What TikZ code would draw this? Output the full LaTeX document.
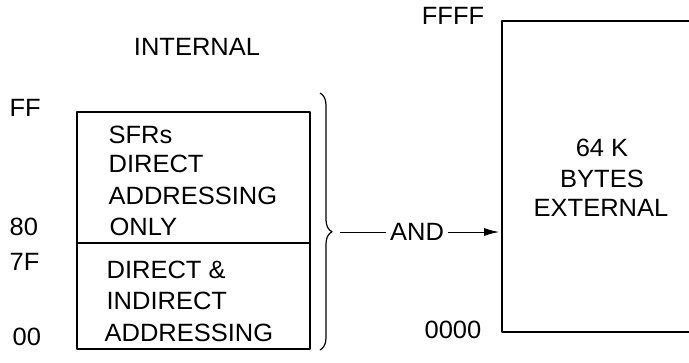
\documentclass[tikz,border=0pt]{standalone}
\usepackage{fontspec}
\setmainfont{Liberation Sans}[FakeStretch=1.02]
\usetikzlibrary{decorations.pathreplacing,arrows.meta}
\begin{document}
\begin{tikzpicture}[x=1pt, y=-1pt, font=\fontsize{25}{29}\selectfont, line width=1.2pt, line join=round, >={Latex[length=15pt,width=8pt]}]
	\useasboundingbox (0,0) rectangle (689,362);
	% internal RAM
	\draw (77,112) rectangle (310,349);
	\draw (77,243) -- (310,243);
	\node (intl) at (197,47) {INTERNAL};
	\node[anchor=west, inner sep=0] (ff) at (9,108) {FF};
	\node[anchor=west, inner sep=0] (a80) at (9,227) {80};
	\node[anchor=west, inner sep=0] (a7f) at (9,262) {7F};
	\node[anchor=west, inner sep=0] (a00) at (12,337) {00};
	\node[anchor=west, inner sep=0] (sfr) at (108,135) {SFRs};
	\node[anchor=west, inner sep=0] (dir) at (108,164) {DIRECT};
	\node[anchor=west, inner sep=0] (adr) at (108,196) {ADDRESSING};
	\node[anchor=west, inner sep=0] (only) at (109,227) {ONLY};
	\node[anchor=west, inner sep=0] (dind) at (106,270) {DIRECT \&};
	\node[anchor=west, inner sep=0] (ind) at (106,301) {INDIRECT};
	\node[anchor=west, inner sep=0] (adr2) at (104,333) {ADDRESSING};
	\draw[decorate, decoration={brace, amplitude=12pt, aspect=0.54}] (320,93) -- (320,350);
	\coordinate (tip) at (340,232);
	% external memory
	\draw (689,21) -| (502,332) -- (689,332);
	\coordinate (extin) at (499,232);
	\node (ffff) at (453,16) {FFFF};
	\node (a0000) at (453,330) {0000};
	\node (k64) at (602,148) {64 K};
	\node (bytes) at (602,179) {BYTES};
	\node (ext) at (601,208) {EXTERNAL};
	\node[inner sep=3pt] (and) at (417,232) {AND};
	\draw[line width=0.9pt] (tip) -- (and);
	\draw[line width=0.9pt, ->] (and) -- (extin);
\end{tikzpicture}
\end{document}
